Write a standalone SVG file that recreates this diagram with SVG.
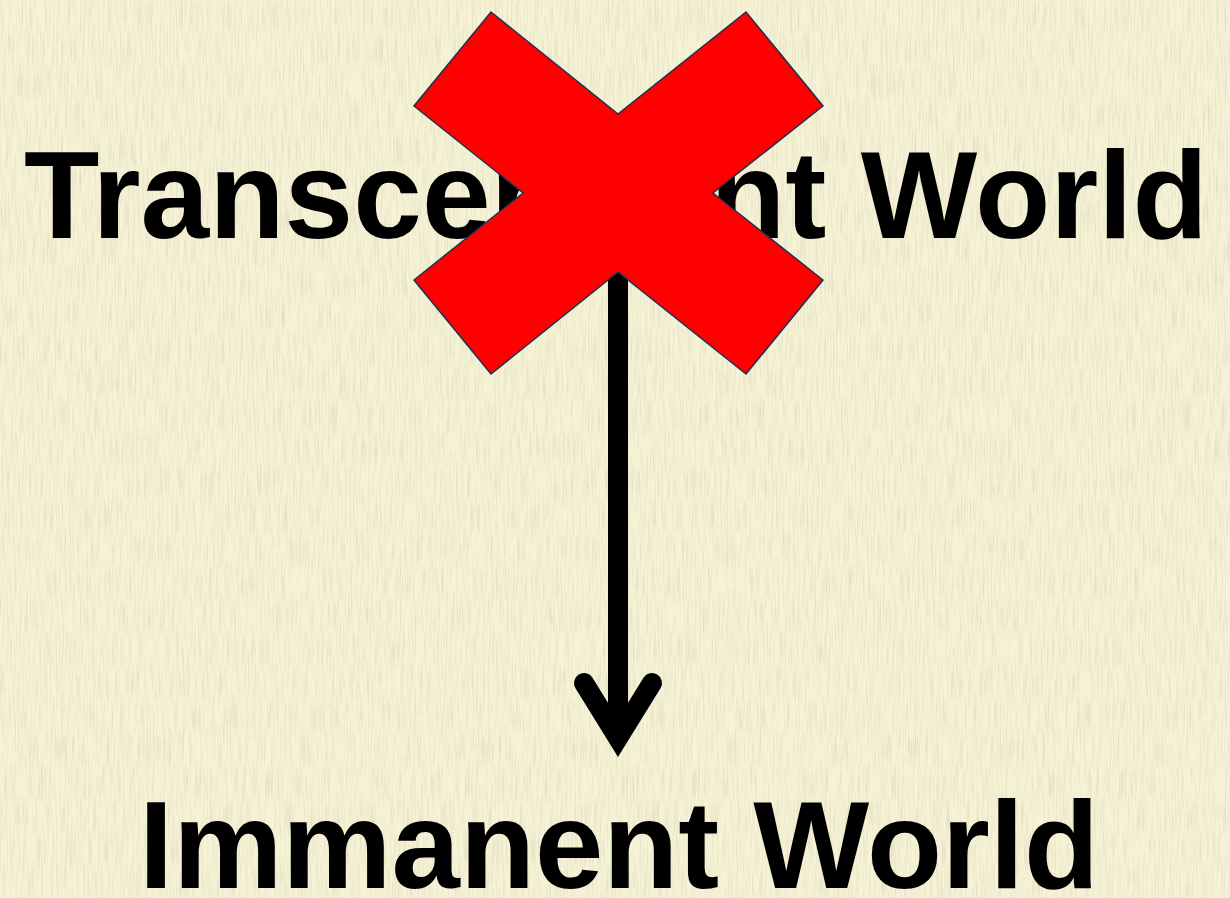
<svg xmlns="http://www.w3.org/2000/svg" width="1230" height="898" viewBox="0 0 1230 898">
  <defs>
    <style>
      .title { font-family: "Liberation Sans", Arial, sans-serif; font-weight: bold; font-size: 125px; fill: #000; text-anchor: middle; }
      .cross { fill: #FF0000; stroke: #1F3150; stroke-width: 1.5; stroke-linejoin: miter; }
      .conn { fill: none; stroke: #000; stroke-width: 20; }
      .head { fill: none; stroke: #000; stroke-width: 20; stroke-linecap: round; stroke-linejoin: miter; stroke-miterlimit: 10; }
    </style>
    <filter id="paper" x="0" y="0" width="100%" height="100%">
      <feTurbulence type="fractalNoise" baseFrequency="0.6 0.03" numOctaves="3" seed="7" result="n"/>
      <feColorMatrix in="n" type="matrix" values="0 0 0 0 0.55  0 0 0 0 0.52  0 0 0 0 0.40  0 0 0 0.9 -0.38" result="c"/>
      <feComposite in="c" in2="SourceGraphic" operator="atop"/>
    </filter>
  </defs>
  <rect id="background" x="0" y="0" width="1230" height="898" fill="#F5F2D5" filter="url(#paper)"/>
  <g id="transcendent">
    <text class="title" x="616" y="238" textLength="1184" lengthAdjust="spacingAndGlyphs">Transcendent World</text>
  </g>
  <g id="connectors">
    <line class="conn" x1="618" y1="260" x2="618" y2="738"/>
    <polyline class="head" points="584,683 618,738 652,683"/>
  </g>
  <g id="cross">
    <polygon class="cross" points="491,12 618,114 746,12 823,106 713,193 823,280 746,374 618,272 491,374 414,280 523,193 414,106"/>
  </g>
  <g id="immanent">
    <text class="title" x="619" y="888" textLength="960" lengthAdjust="spacingAndGlyphs">Immanent World</text>
  </g>
</svg>
